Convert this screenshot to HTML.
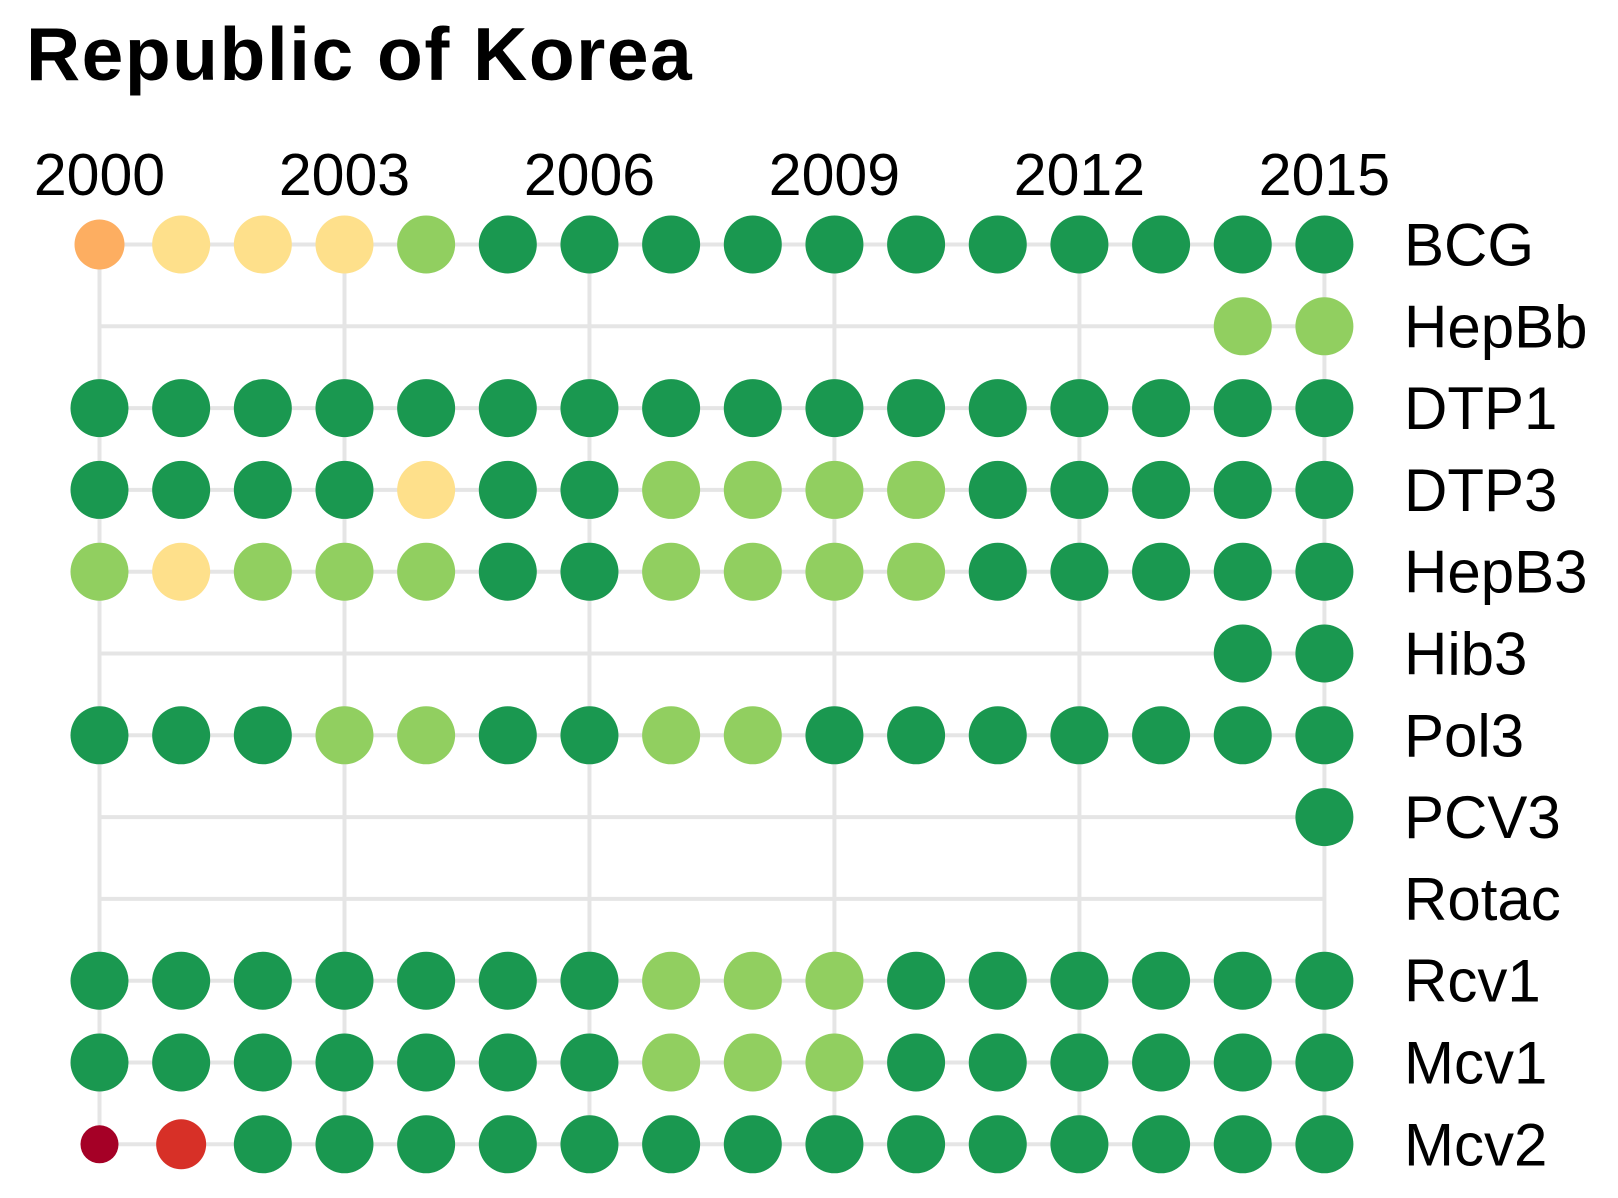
<!DOCTYPE html>
<html><head><meta charset="utf-8"><style>
html,body{margin:0;padding:0;background:#fff;width:1618px;height:1198px;overflow:hidden}
svg{display:block;font-family:"Liberation Sans",Arial,sans-serif}
</style></head><body>
<svg id="chart" width="1618" height="1198">
<text x="26" y="80" font-size="75" font-weight="bold" letter-spacing="1.5">Republic of Korea</text>
<g id="grid"></g><g id="dots"></g><g id="labels"></g>
</svg>
<script>
const years = [2000,2001,2002,2003,2004,2005,2006,2007,2008,2009,2010,2011,2012,2013,2014,2015];
const tickYears = [2000,2003,2006,2009,2012,2015];
const vaccines = ["BCG","HepBb","DTP1","DTP3","HepB3","Hib3","Pol3","PCV3","Rotac","Rcv1","Mcv1","Mcv2"];
// coverage category per year: D=dark green, L=light green, Y=yellow, O=orange, R=red, X=dark red, -=none
const rowBCG   = "OYYYLDDDDDDDDDDD";
const rowHepBb = "--------------LL";
const rowDTP1  = "DDDDDDDDDDDDDDDD";
const rowDTP3  = "DDDDYDDLLLLDDDDD";
const rowHepB3 = "LYLLLDDLLLLDDDDD";
const rowHib3  = "--------------DD";
const rowPol3  = "DDDLLDDLLDDDDDDD";
const rowPCV3  = "---------------D";
const rowRotac = "----------------";
const rowRcv1  = "DDDDDDDLLLDDDDDD";
const rowMcv1  = "DDDDDDDLLLDDDDDD";
const rowMcv2  = "XRDDDDDDDDDDDDDD";
const rows = [rowBCG,rowHepBb,rowDTP1,rowDTP3,rowHepB3,rowHib3,rowPol3,rowPCV3,rowRotac,rowRcv1,rowMcv1,rowMcv2];
const colors = {D:"#1a9850",L:"#91cf60",Y:"#fee08b",O:"#fdae61",R:"#d73027",X:"#a50026"};
const radii = {D:29,L:29,Y:29,O:25,R:25,X:19};
const NS="http://www.w3.org/2000/svg";
const x = yr => 99.5 + (yr-2000)*81.66;
const y = i => 244.5 + i*81.8;
function mk(tag, attrs, parent){const e=document.createElementNS(NS,tag);for(const k in attrs)e.setAttribute(k,attrs[k]);parent.appendChild(e);return e;}
const grid=document.getElementById('grid'),dots=document.getElementById('dots'),labels=document.getElementById('labels');
tickYears.forEach(t=>{
  const l=mk('line',{x1:x(t),x2:x(t),y1:y(0),y2:y(vaccines.length-1),stroke:"#e5e5e5","stroke-width":4},grid);
  
  
  const tx=mk('text',{x:x(t),y:195,"font-size":59,"text-anchor":"middle"},labels);
  tx.textContent=t;
  
  
});
vaccines.forEach((v,i)=>{
  const l=mk('line',{x1:x(years[0]),x2:x(years[years.length-1]),y1:y(i),y2:y(i),stroke:"#e5e5e5","stroke-width":4},grid);
  
  
  const tx=mk('text',{x:1404,y:y(i)+21,"font-size":60},labels);
  tx.textContent=v;
  
  
  rows[i].split('').forEach((c,j)=>{
    if(c==='-')return;
    const d=mk('circle',{cx:x(years[j]),cy:y(i),r:radii[c],fill:colors[c]},dots);
    
    
  });
});
</script>
</body></html>
